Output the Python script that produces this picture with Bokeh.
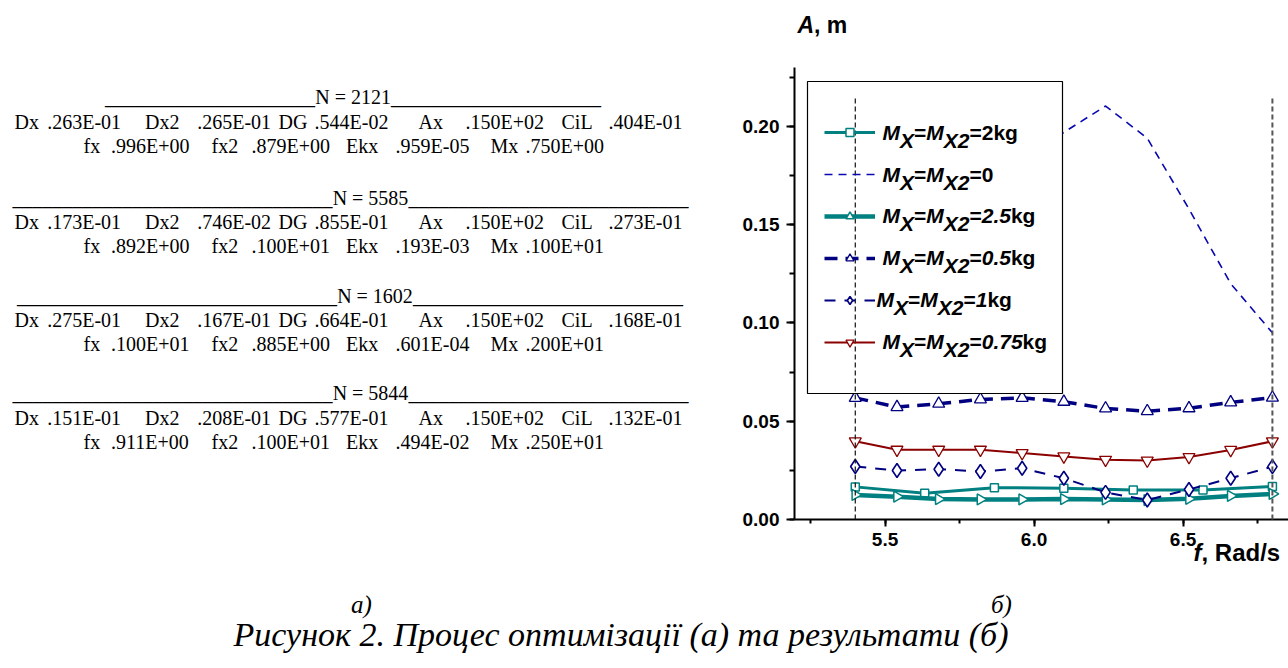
import math
from bokeh.plotting import figure
from bokeh.models import (ColumnDataSource, LabelSet, BoxAnnotation, Legend, LegendItem,
                          SingleIntervalTicker, NumeralTickFormatter, Range1d, LinearAxis)
from bokeh.core.properties import value
from bokeh.embed import file_html
from bokeh.resources import INLINE

# ---------------- data ----------------
freq = [5.40, 5.54, 5.68, 5.82, 5.96, 6.10, 6.24, 6.38, 6.52, 6.66, 6.80]
freq_2kg = [5.40, 5.633, 5.867, 6.10, 6.333, 6.567, 6.80]
amp_2kg = [0.0166, 0.0133, 0.0162, 0.0159, 0.0150, 0.0150, 0.0168]
amp_0 = [0.118, 0.135, 0.152, 0.168, 0.184, 0.197, 0.2104, 0.194, 0.158, 0.120, 0.095]
amp_25kg = [0.0125, 0.0116, 0.0104, 0.0102, 0.0102, 0.0104, 0.0102, 0.0099, 0.0105, 0.0120, 0.0130]
amp_05kg = [0.0619, 0.0572, 0.0589, 0.0611, 0.0619, 0.0599, 0.0565, 0.0551, 0.0566, 0.0596, 0.0620]
amp_1kg = [0.0270, 0.0249, 0.0256, 0.0244, 0.0261, 0.0210, 0.0138, 0.0099, 0.0153, 0.0210, 0.0269]
amp_075kg = [0.0398, 0.0355, 0.0355, 0.0355, 0.0338, 0.0321, 0.0304, 0.0300, 0.0318, 0.0354, 0.0398]
ref_freq = [5.40, 6.80]
ref_top = 0.215

x_ticks_step = 0.5
y_ticks_step = 0.05

# optimisation log (left panel)
block_n = ["2121", "5585", "1602", "5844"]
dx_names = ["Dx", "Dx2", "DG", "Ax", "CiL"]
dx_values = [[".263E-01", ".265E-01", ".544E-02", ".150E+02", ".404E-01"],
             [".173E-01", ".746E-02", ".855E-01", ".150E+02", ".273E-01"],
             [".275E-01", ".167E-01", ".664E-01", ".150E+02", ".168E-01"],
             [".151E-01", ".208E-01", ".577E-01", ".150E+02", ".132E-01"]]
fx_names = ["fx", "fx2", "Ekx", "Mx"]
fx_values = [[".996E+00", ".879E+00", ".959E-05", ".750E+00"],
             [".892E+00", ".100E+01", ".193E-03", ".100E+01"],
             [".100E+01", ".885E+00", ".601E-04", ".200E+01"],
             [".911E+00", ".100E+01", ".494E-02", ".250E+01"]]
caption = "Рисунок 2. Процес оптимізації (а) та результати (б)"
sub_a = "а)"
sub_b = "б)"

# ---------------- geometry (page pixels) ----------------
W, H = 1288, 668
FL, FR, FT, FB = 794, 1288, 67, 519      # chart area edges
X0, X1 = 5.196, 6.854                    # chart data limits
Y0, Y1 = 0.0, 0.23
PXU_X = (FR - FL) / (X1 - X0)
PXU_Y = (FB - FT) / (Y1 - Y0)

p = figure(width=W, height=H, output_backend="svg", toolbar_location=None, title=None,
           x_range=Range1d(0, W), y_range=Range1d(H, 0),
           x_axis_type=None, y_axis_type=None,
           min_border=0, min_border_left=0, min_border_right=0,
           min_border_top=0, min_border_bottom=0)
p.outline_line_color = None
p.background_fill_color = "white"
p.border_fill_color = "white"
p.extra_x_ranges = {"f": Range1d(X0 - FL / PXU_X, X0 + (W - FL) / PXU_X)}
p.extra_y_ranges = {"A": Range1d(Y0 - (H - FB) / PXU_Y, Y1 + FT / PXU_Y)}

SANS = "Liberation Sans"
SERIF = "Liberation Serif"

xaxis = LinearAxis(x_range_name="f", y_range_name="A", fixed_location=Y0, bounds=(X0, X1))
yaxis = LinearAxis(x_range_name="f", y_range_name="A", fixed_location=X0, bounds=(Y0, Y1))
for ax, step in ((xaxis, x_ticks_step), (yaxis, y_ticks_step)):
    ax.ticker = SingleIntervalTicker(interval=step, num_minor_ticks=2)
    ax.axis_line_width = 2
    ax.major_tick_line_width = 2
    ax.minor_tick_line_width = 2
    ax.major_tick_in = 0
    ax.minor_tick_in = 0
    ax.major_label_text_font = SANS
    ax.major_label_text_font_style = "bold"
    ax.major_label_text_font_size = "19px"
    ax.major_label_text_color = "black"
    ax.axis_line_color = "black"
    ax.major_tick_line_color = "black"
    ax.minor_tick_line_color = "black"
xaxis.formatter = NumeralTickFormatter(format="0.0")
yaxis.formatter = NumeralTickFormatter(format="0.00")
xaxis.major_tick_out = 7
xaxis.minor_tick_out = 4
xaxis.major_label_standoff = 6
yaxis.major_tick_out = 8
yaxis.minor_tick_out = 5
yaxis.major_label_standoff = 7
p.add_layout(xaxis, "below")
p.add_layout(yaxis, "left")

TEAL = "#008080"
NAVY = "#000080"
BLUE = "#0808B0"
DRED = "#8B0000"
R = dict(x_range_name="f", y_range_name="A")

# ---------------- series ----------------
l0 = p.line(freq, amp_0, line_color=BLUE, line_width=1.6, line_dash="8 6", **R)

l1 = p.line(freq_2kg, amp_2kg, line_color=TEAL, line_width=3, **R)
s1 = p.scatter(freq_2kg, amp_2kg, marker="square", size=8, line_color=TEAL,
               fill_color="white", line_width=1.5, **R)

l2 = p.line(freq, amp_25kg, line_color=TEAL, line_width=4.5, **R)
s2 = p.scatter(freq, amp_25kg, marker="triangle", angle=-math.pi / 2, size=11,
               line_color=TEAL, fill_color="white", line_width=1.5, **R)

l3 = p.line(freq, amp_05kg, line_color=NAVY, line_width=3.5, line_dash="13 8", **R)
s3 = p.scatter(freq, amp_05kg, marker="triangle", size=12, line_color=NAVY,
               fill_color="white", line_width=1.3, **R)

l4 = p.line(freq, amp_1kg, line_color=NAVY, line_width=2, line_dash="11 9", **R)
s4 = p.scatter(freq, amp_1kg, marker="diamond", size=14, line_color=NAVY,
               fill_color="white", line_width=1.6, **R)

l5 = p.line(freq, amp_075kg, line_color=DRED, line_width=2, **R)
s5 = p.scatter(freq, amp_075kg, marker="inverted_triangle", size=12, line_color=DRED,
               fill_color="white", line_width=1.3, **R)

# legend frame (white, hides the curve beneath it)
box = BoxAnnotation(left=807, right=1062, top=81, bottom=393,
                    fill_color="white", fill_alpha=1.0, line_color="black",
                    line_width=1.2, line_alpha=1.0)
p.add_layout(box)

legend = Legend(items=[LegendItem(label=" ", renderers=[l1, s1]),
                       LegendItem(label=" ", renderers=[l0]),
                       LegendItem(label=" ", renderers=[l2, s2]),
                       LegendItem(label=" ", renderers=[l3, s3]),
                       LegendItem(label=" ", renderers=[l4, s4]),
                       LegendItem(label=" ", renderers=[l5, s5])],
                location=(824, H - (131.5 - 21 + 6 * 42)),
                padding=0, spacing=0, margin=0, glyph_width=51, glyph_height=20,
                label_height=42, label_width=1, label_standoff=0,
                label_text_font_size="1px", border_line_color=None,
                background_fill_alpha=0)
p.add_layout(legend)

# vertical reference lines at the ends of the frequency range
p.segment(x0=ref_freq, y0=[0, 0], x1=ref_freq, y1=[ref_top, ref_top],
          line_color=["#111111", "#555555"], line_width=[1.2, 2.0], line_dash="5 3",
          level="overlay", **R)

# ---------------- rich texts (legend labels, axis titles) ----------------
BW = {'M': 833, 'X': 667, '=': 584, '0': 556, '1': 556, '2': 556, '5': 556, '7': 556,
      '.': 278, 'k': 556, 'g': 611, 'A': 722, ',': 278, ' ': 278, 'm': 889, 'f': 333,
      'R': 722, 'a': 556, 'd': 611, '/': 278, 's': 556}

bi = dict(x=[], y=[], text=[], size=[])
bn = dict(x=[], y=[], text=[], size=[])


def rich(x, base, pieces, size):
    for txt, italic, dy in pieces:
        d = bi if italic else bn
        d["x"].append(x)
        d["y"].append(base + dy)
        d["text"].append(txt)
        d["size"].append(f"{size}px")
        x += sum(BW[c] for c in txt) * size / 1000.0


SUB = 8
head = [("M", True, 0), ("X", True, SUB), ("=", False, 0), ("M", True, 0), ("X2", True, SUB)]
legend_tails = [[("=2kg", False, 0)],
                [("=0", False, 0)],
                [("=", False, 0), ("2.5", True, 0), ("kg", False, 0)],
                [("=", False, 0), ("0.5", True, 0), ("kg", False, 0)],
                [("=", False, 0), ("1", True, 0), ("kg", False, 0)],
                [("=", False, 0), ("0.75", True, 0), ("kg", False, 0)]]
legend_x = [882, 882, 882, 882, 876, 882]
for k, tail in enumerate(legend_tails):
    rich(legend_x[k], 131.5 + 41.7 * k + 8, head + tail, 21)

rich(797, 32, [("A", True, 0), (", m", False, 0)], 23)
rich(1193, 560, [("f", True, 0), (", Rad/s", False, 0)], 24)

for d, style in ((bi, "bold italic"), (bn, "bold")):
    p.add_layout(LabelSet(x="x", y="y", text="text", source=ColumnDataSource(d),
                          text_font=value(SANS), text_font_style=style, text_font_size="size",
                          text_color="black", text_align="left", text_baseline="alphabetic"))

# ---------------- left panel: optimisation log ----------------
log = dict(x=[], y=[], text=[], align=[])


def put(x, y, t, align="left"):
    log["x"].append(x)
    log["y"].append(y)
    log["text"].append(t)
    log["align"].append(align)


n_base = [103.5, 204, 302, 399.5]
n_mid = [352.6, 370, 374.5, 370]
n_half = 38
us_left = [21, 32, 32, 32]
us_right = [21, 28, 27, 28]
dx_x = [14, 46.7, 144.5, 196.7, 278, 314, 418, 465, 561, 608]
fx_x = [83, 110.5, 211, 251, 345.5, 395, 490, 525]
for b in range(4):
    y = n_base[b]
    put(n_mid[b], y, "N = " + block_n[b], "center")
    put(n_mid[b] - n_half, y, "_" * us_left[b], "right")
    put(n_mid[b] + n_half, y, "_" * us_right[b], "left")
    toks = []
    for nm, v in zip(dx_names, dx_values[b]):
        toks += [nm, v]
    for xx, t in zip(dx_x, toks):
        put(xx, y + 24.5, t)
    toks = []
    for nm, v in zip(fx_names, fx_values[b]):
        toks += [nm, v]
    for xx, t in zip(fx_x, toks):
        put(xx, y + 48.5, t)

p.add_layout(LabelSet(x="x", y="y", text="text", source=ColumnDataSource(log),
                      text_font=value(SERIF), text_font_size="20px", text_color="black",
                      text_align="align", text_baseline="alphabetic"))

cap = dict(x=[361, 1001, 620.5], y=[612, 612, 645],
           text=[sub_a, sub_b, caption], size=["25px", "25px", "34px"])
p.add_layout(LabelSet(x="x", y="y", text="text", source=ColumnDataSource(cap),
                      text_font=value(SERIF), text_font_style="italic", text_font_size="size",
                      text_color="black", text_align="center", text_baseline="alphabetic"))

open("out.html", "w").write(file_html(p, INLINE))
